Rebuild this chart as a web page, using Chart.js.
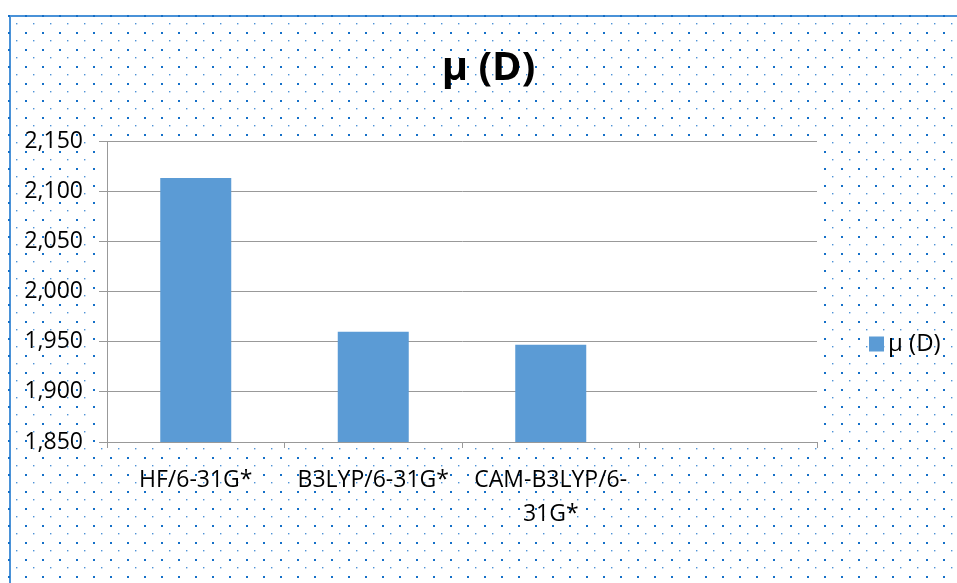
<!DOCTYPE html>
<html>
<head>
<meta charset="utf-8">
<script src="https://cdn.jsdelivr.net/npm/chart.js@4.4.0/dist/chart.umd.min.js"></script>
<style>
  html, body { margin: 0; padding: 0; background: #fff; }
  #wrap { width: 957px; height: 583px; }
</style>
</head>
<body>
<div id="wrap"><canvas id="dipoleChart"></canvas></div>
<script>
const categories = ['HF/6-31G*', 'B3LYP/6-31G*', ['CAM-B3LYP/6-', '31G*'], ''];
const seriesName = 'μ (D)';
const dipoleValues = [2.113, 1.960, 1.947, null];
const yTickValues = [1.850, 1.900, 1.950, 2.000, 2.050, 2.100, 2.150];

const FONT = '"Open Sans", "Liberation Sans", sans-serif';

// dotted sheet background + blue frame + white plot area
const sheetBackground = {
    id: 'sheetBackground',
    beforeDraw(chart) {
        const { ctx, width, height, chartArea } = chart;
        ctx.save();
        ctx.fillStyle = '#fff';
        ctx.fillRect(0, 0, width, height);

        // frame (top + left)
        ctx.fillStyle = '#4a92d8';
        ctx.fillRect(9, 15, width - 9, 2);
        ctx.fillRect(9, 15, 2, height - 15);

        const tile = document.createElement('canvas');
        tile.width = 17;
        tile.height = 17;
        const t = tile.getContext('2d');
        t.fillStyle = '#1570c8';
        t.fillRect(0, 0, 2, 2);
        t.fillStyle = '#4d92d6';
        t.fillRect(8, 8, 1.4, 1.4);
        const pattern = ctx.createPattern(tile, 'repeat');
        pattern.setTransform(new DOMMatrix([1, 0, 0, 1, 8, 15]));
        ctx.fillStyle = pattern;
        ctx.fillRect(8, 15, width - 8, height - 15);

        // plot area
        ctx.fillStyle = '#fff';
        ctx.fillRect(chartArea.left - 8, chartArea.top - 1,
            chartArea.right - chartArea.left + 8, chartArea.bottom - chartArea.top + 6);
        ctx.restore();
    }
};

// legend on the right, like Excel puts it
const sideLegend = {
    id: 'sideLegend',
    afterDraw(chart) {
        const ds = chart.data.datasets[0];
        const ctx = chart.ctx;
        const x = chart.chartArea.right + 52;
        const y = 344;
        ctx.save();
        ctx.fillStyle = ds.backgroundColor;
        ctx.fillRect(x, y - 7.5, 15, 15);
        ctx.fillStyle = '#000';
        ctx.font = '24px ' + FONT;
        ctx.textBaseline = 'middle';
        ctx.textAlign = 'left';
        ctx.fillText(ds.label, x + 19, y);
        ctx.restore();
    }
};

// Excel centres the title over the whole chart, not just the plot side
const titleNudge = {
    id: 'titleNudge',
    afterLayout(chart) {
        if (chart.titleBlock) {
            chart.titleBlock.left += 80;
            chart.titleBlock.right += 80;
        }
    }
};

const ctx = document.getElementById('dipoleChart').getContext('2d');

new Chart(ctx, {
    type: 'bar',
    data: {
        labels: categories,
        datasets: [{
            label: seriesName,
            data: dipoleValues,
            backgroundColor: '#5b9bd5',
            borderWidth: 0,
            barPercentage: 0.4,
            categoryPercentage: 1.0
        }]
    },
    options: {
        responsive: true,
        maintainAspectRatio: false,
        animation: false,
        layout: {
            padding: { top: 0, left: 0, right: 140, bottom: 0 }
        },
        plugins: {
            legend: { display: false },
            tooltip: { enabled: false },
            title: {
                display: true,
                text: seriesName,
                color: '#000',
                font: { family: FONT, size: 40, weight: 'bold', lineHeight: 1.2 },
                padding: { top: 45, bottom: 48 }
            }
        },
        scales: {
            x: {
                offset: true,
                grid: {
                    offset: true,
                    drawOnChartArea: false,
                    drawTicks: true,
                    tickLength: 6,
                    color: '#999'
                },
                border: { display: true, color: '#999' },
                ticks: {
                    color: '#000',
                    font: { family: FONT, size: 23, lineHeight: 1.45 },
                    padding: 16,
                    maxRotation: 0,
                    autoSkip: false
                },
                afterFit(scale) { scale.height = 141; }
            },
            y: {
                min: 1.85,
                max: 2.15,
                afterBuildTicks(scale) {
                    scale.ticks = yTickValues.map(v => ({ value: v }));
                },
                grid: {
                    color: '#999',
                    drawTicks: true,
                    tickLength: 8
                },
                border: { display: true, color: '#999' },
                ticks: {
                    color: '#000',
                    font: { family: FONT, size: 23 },
                    padding: 16,
                    callback: v => Number(v).toFixed(3).replace('.', ',')
                },
                afterFit(scale) { scale.width = 107; }
            }
        }
    },
    plugins: [sheetBackground, sideLegend, titleNudge]
});
</script>
</body>
</html>
